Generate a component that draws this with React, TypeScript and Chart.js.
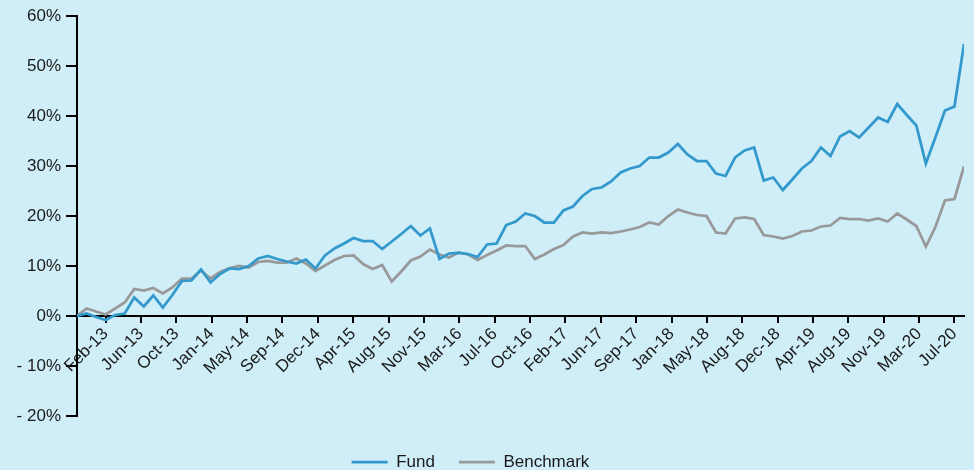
import { useEffect, useRef } from 'react';
import { Chart, registerables } from 'chart.js';

Chart.register(...registerables);

// Monthly cumulative performance (%), first point = end of Oct-12
const firstMonth = 'Oct-12';
const fundValues = [
  0, 0.5, -0.2, -0.8, 0.2, 0.5, 3.7, 1.9, 4.1, 1.7,
  4.2, 7.0, 7.1, 9.3, 6.7, 8.4, 9.5, 9.4, 10.0, 11.5,
  12.0, 11.4, 10.9, 10.5, 11.3, 9.5, 12.1, 13.5, 14.5, 15.6,
  15.0, 15.0, 13.4, 14.9, 16.4, 18.0, 16.1, 17.5, 11.4, 12.5,
  12.6, 12.4, 11.8, 14.3, 14.5, 18.2, 18.9, 20.5, 20.0, 18.7,
  18.7, 21.1, 21.9, 24.0, 25.4, 25.7, 26.9, 28.7, 29.5, 30.0,
  31.7, 31.7, 32.7, 34.4, 32.3, 31.0, 31.0, 28.5, 28.0, 31.7,
  33.1, 33.7, 27.1, 27.7, 25.2, 27.3, 29.5, 31.0, 33.7, 32.0,
  35.9, 37.0, 35.7, 37.7, 39.7, 38.8, 42.4, 40.2, 38.1, 30.5,
  35.7, 41.1, 41.9, 54.4,
];
const benchmarkValues = [
  0, 1.5, 0.9, 0.3, 1.5, 2.7, 5.4, 5.1, 5.6, 4.5,
  5.7, 7.5, 7.5, 9.1, 7.5, 8.8, 9.6, 10.0, 9.7, 10.8,
  11.0, 10.7, 10.7, 11.5, 10.5, 9.0, 10.1, 11.2, 12.0, 12.1,
  10.4, 9.4, 10.2, 6.9, 8.9, 11.1, 11.9, 13.3, 12.3, 11.7,
  12.7, 12.3, 11.2, 12.2, 13.1, 14.1, 14.0, 14.0, 11.4, 12.3,
  13.4, 14.2, 15.9, 16.7, 16.5, 16.7, 16.6, 16.9, 17.3, 17.8,
  18.7, 18.3, 20.0, 21.3, 20.7, 20.2, 20.0, 16.7, 16.5, 19.5,
  19.7, 19.4, 16.2, 15.9, 15.5, 16.0, 16.9, 17.1, 17.9, 18.1,
  19.6, 19.4, 19.4, 19.1, 19.5, 18.9, 20.5, 19.3, 18.0, 13.9,
  17.8, 23.1, 23.4, 29.9,
];
const tickLabels = [
  'Feb-13', 'Jun-13', 'Oct-13', 'Jan-14', 'May-14', 'Sep-14', 'Dec-14',
  'Apr-15', 'Aug-15', 'Nov-15', 'Mar-16', 'Jul-16', 'Oct-16', 'Feb-17',
  'Jun-17', 'Sep-17', 'Jan-18', 'May-18', 'Aug-18', 'Dec-18', 'Apr-19',
  'Aug-19', 'Nov-19', 'Mar-20', 'Jul-20',
];
const yMin = -20;
const yMax = 60;
const yStep = 10;

const MONTHS = ['Jan', 'Feb', 'Mar', 'Apr', 'May', 'Jun', 'Jul', 'Aug', 'Sep', 'Oct', 'Nov', 'Dec'];
const monthNumber = (label: string) => {
  const [m, y] = label.split('-');
  return (2000 + Number(y)) * 12 + MONTHS.indexOf(m);
};
// position of the 1st day of a labelled month, in months after the first point (month-end)
const posOf = (label: string) => monthNumber(label) - (monthNumber(firstMonth) + 1);
const firstTick = posOf(tickLabels[0]);
const lastTick = posOf(tickLabels[tickLabels.length - 1]);
const tickStep = (lastTick - firstTick) / (tickLabels.length - 1);
const tickPositions = tickLabels.map((_, i) => firstTick + i * tickStep);

const BG = '#cfeef8';
const FUND = '#3399cc';
const BENCH = '#999999';
const TEXT = '#1a1a1a';
const FONT = "'Liberation Sans', Arial, sans-serif";

export default function App() {
  const ref = useRef<HTMLCanvasElement>(null);
  useEffect(() => {
    document.body.style.margin = '0';
    document.body.style.background = BG;
    const chart = new Chart(ref.current!, {
      type: 'line',
      data: {
        datasets: [
          {
            label: 'Fund',
            data: fundValues.map((y, i) => ({ x: i, y })),
            borderColor: FUND,
            backgroundColor: FUND,
            borderWidth: 2.75,
            pointRadius: 0,
            tension: 0,
          },
          {
            label: 'Benchmark',
            data: benchmarkValues.map((y, i) => ({ x: i, y })),
            borderColor: BENCH,
            backgroundColor: BENCH,
            borderWidth: 2.75,
            pointRadius: 0,
            tension: 0,
          },
        ],
      },
      options: {
        responsive: false,
        animation: false,
        layout: { padding: { left: -23, right: 10, top: 16, bottom: -10.5 } },
        plugins: {
          tooltip: { enabled: false },
          legend: {
            position: 'bottom',
            title: { display: true, text: '', font: { size: 13.5, lineHeight: 1 }, padding: 0 },
            labels: {
              usePointStyle: true,
              pointStyle: 'line',
              pointStyleWidth: 36,
              padding: 24,
              color: TEXT,
              font: { family: FONT, size: 17 },
            },
          },
        },
        scales: {
          x: {
            type: 'linear',
            position: { y: 0 },
            min: 0,
            max: fundValues.length - 1,
            afterBuildTicks: (s: any) => {
              s.ticks = tickPositions.map((v) => ({ value: v }));
            },
            ticks: {
              autoSkip: false,
              minRotation: 45,
              maxRotation: 45,
              padding: 2,
              color: TEXT,
              font: { family: FONT, size: 17 },
              callback: (_v: any, i: number) => tickLabels[i],
            },
            grid: { drawOnChartArea: false, drawTicks: true, tickLength: 6, tickColor: '#000', lineWidth: 2 },
            border: { display: true, color: '#000', width: 2 },
          },
          y: {
            min: yMin,
            max: yMax,
            afterFit: (s: any) => {
              s.width = 100;
            },
            ticks: {
              stepSize: yStep,
              padding: 5,
              color: TEXT,
              font: { family: FONT, size: 17 },
              callback: (v: any) => (v < 0 ? '- ' + Math.abs(v) + '%' : v + '%'),
            },
            grid: { drawOnChartArea: false, drawTicks: true, tickLength: 11, tickColor: '#000', lineWidth: 2 },
            border: { display: true, color: '#000', width: 2 },
          },
        },
      },
    });
    return () => chart.destroy();
  }, []);
  return <canvas ref={ref} width={974} height={470} style={{ display: 'block' }} />;
}
